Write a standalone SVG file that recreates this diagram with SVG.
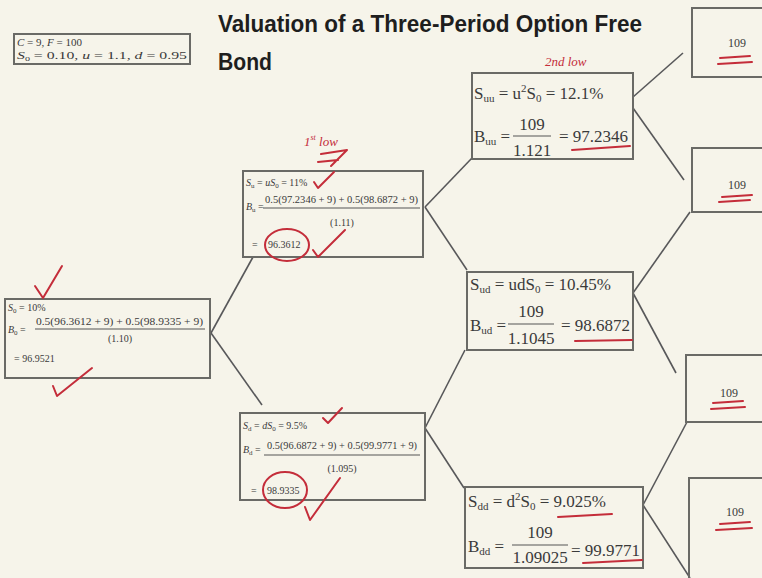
<svg xmlns="http://www.w3.org/2000/svg" width="762" height="578" viewBox="0 0 762 578">
<defs>
<style>
.bg{fill:#f6f4ea}
.box{fill:none;stroke:#6a6a66;stroke-width:2}
.t{font-family:"Liberation Serif","Times New Roman",serif;fill:#3a3a3a}
.s10{font-size:10px}
.s17{font-size:17px}
.title{font-family:"Liberation Sans",Arial,sans-serif;font-weight:bold;font-size:24px;fill:#1e1e1e}
.frac{stroke:#555;stroke-width:1}
.red{fill:none;stroke:#c42d3a;stroke-width:2;stroke-linecap:round;stroke-linejoin:round}
.rt{font-family:"Liberation Serif",serif;font-style:italic;fill:#c42d3a}
.conn line{stroke:#58585a;stroke-width:1.6}
</style>
</defs>
<rect class="bg" x="0" y="0" width="762" height="578"/>

<g id="title">
<text class="title" x="218" y="32" textLength="424" lengthAdjust="spacingAndGlyphs">Valuation of a Three-Period Option Free</text>
<text class="title" x="218" y="70" textLength="54" lengthAdjust="spacingAndGlyphs">Bond</text>
</g>

<g id="params">
<rect class="box" x="14" y="34" width="176" height="30"/>
<text class="t" font-size="11" x="17" y="46"><tspan font-style="italic">C</tspan> = 9, <tspan font-style="italic">F</tspan> = 100</text>
<text class="t" font-size="11" x="17" y="59" textLength="170" lengthAdjust="spacingAndGlyphs"><tspan font-style="italic">S</tspan><tspan font-size="7" dy="2">0</tspan><tspan dy="-2"> = 0.10, </tspan><tspan font-style="italic">u</tspan> = 1.1, <tspan font-style="italic">d</tspan> = 0.95</text>
</g>

<g class="conn" id="connectors">
<line x1="211" y1="333" x2="253" y2="257"/>
<line x1="211" y1="333" x2="262" y2="405"/>
<line x1="425" y1="207" x2="472" y2="158"/>
<line x1="425" y1="207" x2="467" y2="270"/>
<line x1="425" y1="428" x2="465" y2="350"/>
<line x1="425" y1="428" x2="464" y2="488"/>
<line x1="633" y1="97" x2="683" y2="53"/>
<line x1="633" y1="108" x2="684" y2="180"/>
<line x1="633" y1="293" x2="690" y2="212"/>
<line x1="633" y1="293" x2="676" y2="373"/>
<line x1="643" y1="505" x2="687" y2="422"/>
<line x1="643" y1="505" x2="690" y2="578"/>
</g>

<g id="node-root">
<rect class="box" x="5" y="299" width="205" height="79"/>
<text class="t s10" x="8" y="311"><tspan font-style="italic">S</tspan><tspan font-size="7" dy="2">0</tspan><tspan dy="-2"> = 10%</tspan></text>
<text class="t s10" x="8" y="333"><tspan font-style="italic">B</tspan><tspan font-size="7" dy="2">0</tspan><tspan dy="-2"> =</tspan></text>
<text class="t s10" x="36" y="325" textLength="167" lengthAdjust="spacingAndGlyphs">0.5(96.3612 + 9) + 0.5(98.9335 + 9)</text>
<line class="frac" x1="35" y1="329" x2="205" y2="329"/>
<text class="t s10" x="120" y="342" text-anchor="middle">(1.10)</text>
<text class="t s10" x="14" y="362">= 96.9521</text>
</g>

<g id="node-su">
<rect class="box" x="243" y="171" width="180" height="86"/>
<text class="t s10" x="246" y="186"><tspan font-style="italic">S</tspan><tspan font-size="7" dy="2">u</tspan><tspan dy="-2"> = </tspan><tspan font-style="italic">u</tspan><tspan font-style="italic">S</tspan><tspan font-size="7" dy="2">0</tspan><tspan dy="-2"> = 11%</tspan></text>
<text class="t s10" x="246" y="210"><tspan font-style="italic">B</tspan><tspan font-size="7" dy="2">u</tspan><tspan dy="-2"> =</tspan></text>
<text class="t s10" x="265" y="203" textLength="153" lengthAdjust="spacingAndGlyphs">0.5(97.2346 + 9) + 0.5(98.6872 + 9)</text>
<line class="frac" x1="263" y1="208" x2="420" y2="208"/>
<text class="t s10" x="342" y="226" text-anchor="middle">(1.11)</text>
<text class="t s10" x="252" y="248">=<tspan x="268">96.3612</tspan></text>
</g>

<g id="node-sd">
<rect class="box" x="240" y="413" width="185" height="87"/>
<text class="t s10" x="243" y="429"><tspan font-style="italic">S</tspan><tspan font-size="7" dy="2">d</tspan><tspan dy="-2"> = </tspan><tspan font-style="italic">d</tspan><tspan font-style="italic">S</tspan><tspan font-size="7" dy="2">0</tspan><tspan dy="-2"> = 9.5%</tspan></text>
<text class="t s10" x="243" y="453"><tspan font-style="italic">B</tspan><tspan font-size="7" dy="2">d</tspan><tspan dy="-2"> =</tspan></text>
<text class="t s10" x="267" y="449" textLength="150" lengthAdjust="spacingAndGlyphs">0.5(96.6872 + 9) + 0.5(99.9771 + 9)</text>
<line class="frac" x1="264" y1="455" x2="420" y2="455"/>
<text class="t s10" x="342" y="472" text-anchor="middle">(1.095)</text>
<text class="t s10" x="251" y="494">=<tspan x="267">98.9335</tspan></text>
</g>

<g id="node-suu">
<rect class="box" x="472" y="73" width="161" height="86"/>
<text class="t s17" x="474" y="99">S<tspan font-size="11" dy="3">uu</tspan><tspan dy="-3"> = u</tspan><tspan font-size="11" dy="-7">2</tspan><tspan dy="7">S</tspan><tspan font-size="11" dy="3">0</tspan><tspan dy="-3"> = 12.1%</tspan></text>
<text class="t s17" x="474" y="142">B<tspan font-size="11" dy="3">uu</tspan><tspan dy="-3"> =</tspan></text>
<text class="t s17" x="532" y="130" text-anchor="middle">109</text>
<line class="frac" x1="513" y1="136" x2="551" y2="136"/>
<text class="t s17" x="532" y="156" text-anchor="middle">1.121</text>
<text class="t s17" x="559" y="142">= 97.2346</text>
</g>

<g id="node-sud">
<rect class="box" x="467" y="272" width="166" height="78"/>
<text class="t s17" x="470" y="290">S<tspan font-size="11" dy="3">ud</tspan><tspan dy="-3"> = udS</tspan><tspan font-size="11" dy="3">0</tspan><tspan dy="-3"> = 10.45%</tspan></text>
<text class="t s17" x="470" y="331">B<tspan font-size="11" dy="3">ud</tspan><tspan dy="-3"> =</tspan></text>
<text class="t s17" x="531" y="317" text-anchor="middle">109</text>
<line class="frac" x1="508" y1="324" x2="554" y2="324"/>
<text class="t s17" x="531" y="344" text-anchor="middle">1.1045</text>
<text class="t s17" x="561" y="331">= 98.6872</text>
</g>

<g id="node-sdd">
<rect class="box" x="465" y="487" width="178" height="81"/>
<text class="t s17" x="468" y="507">S<tspan font-size="11" dy="3">dd</tspan><tspan dy="-3"> = d</tspan><tspan font-size="11" dy="-7">2</tspan><tspan dy="7">S</tspan><tspan font-size="11" dy="3">0</tspan><tspan dy="-3"> = 9.025%</tspan></text>
<text class="t s17" x="468" y="552">B<tspan font-size="11" dy="3">dd</tspan><tspan dy="-3"> =</tspan></text>
<text class="t s17" x="540" y="538" text-anchor="middle">109</text>
<line class="frac" x1="512" y1="545" x2="568" y2="545"/>
<text class="t s17" x="540" y="563" text-anchor="middle">1.09025</text>
<text class="t s17" x="571" y="556">= 99.9771</text>
</g>

<g id="leaf-uuu">
<rect class="box" x="692" y="8" width="80" height="69"/>
<text class="t" font-size="12" x="737" y="47" text-anchor="middle">109</text>
</g>
<g id="leaf-uud">
<rect class="box" x="692" y="148" width="80" height="64"/>
<text class="t" font-size="12" x="737" y="189" text-anchor="middle">109</text>
</g>
<g id="leaf-udd">
<rect class="box" x="686" y="355" width="86" height="67"/>
<text class="t" font-size="12" x="729" y="397" text-anchor="middle">109</text>
</g>
<g id="leaf-ddd">
<rect class="box" x="689" y="478" width="83" height="110"/>
<text class="t" font-size="12" x="735" y="516" text-anchor="middle">109</text>
</g>

<g id="annotations">
<path class="red" d="M35,286 L43,298 L62,266"/>
<path class="red" d="M53,386 L57,396 L92,368"/>
<text class="rt" font-size="13" x="304" y="146">1<tspan font-size="8" dy="-6">st</tspan><tspan dy="6"> low</tspan></text>
<path class="red" d="M321,154 L347,150 L331,166 M318,162 L338,160"/>
<path class="red" d="M314,182 L318,188 L334,172"/>
<ellipse class="red" cx="287" cy="245" rx="22" ry="16"/>
<path class="red" d="M313,250 L318,257 L345,230"/>
<path class="red" d="M323,418 L328,423 L342,408"/>
<ellipse class="red" cx="285" cy="490" rx="22" ry="18"/>
<path class="red" d="M305,507 L310,520 L340,478"/>
<text class="rt" font-size="13" x="545" y="66">2nd low</text>
<path class="red" d="M572,150 L630,146"/>
<path class="red" d="M575,341 L632,340"/>
<path class="red" d="M558,517 L612,514"/>
<path class="red" d="M583,563 L642,560"/>
<path class="red" d="M720,58 L750,56 M718,64 L752,62"/>
<path class="red" d="M722,197 L752,195 M719,202 L750,200"/>
<path class="red" d="M713,403 L743,401 M711,409 L745,407"/>
<path class="red" d="M720,524 L750,522 M716,530 L752,528"/>
</g>
</svg>
